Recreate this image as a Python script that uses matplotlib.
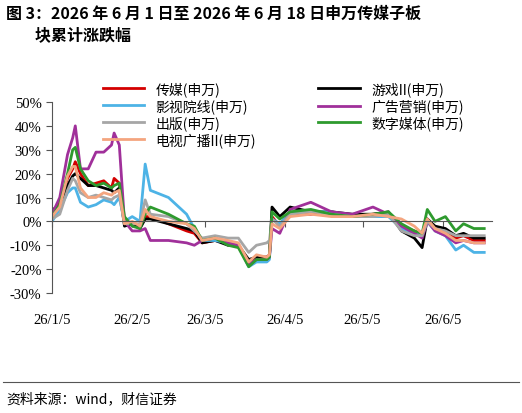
import matplotlib
matplotlib.use("Agg")
import matplotlib.pyplot as plt
import pandas as pd
from matplotlib.ticker import FuncFormatter

plt.rcParams['font.family'] = ['Liberation Serif', 'Noto Sans CJK SC']

start = pd.Timestamp('2026-01-05')
days = [0,3,6,8,9,11,14,17,20,23,24,26,28,31,34,36,38,45,52,55,58,63,68,72,76,79,83,84,85,88,92,100,108,116,124,130,135,140,143,145,148,152,156,159,163,167]
series = {
 '传媒(申万)': ([3,8,18,22,25,20,15,16,17,14,18,16,0,-1,-2,2,2,-1,-4,-5,-9,-8,-9,-10,-17,-15,-15,-14,2,-2,3,3,4,2,3,3,-2,-4,-6,1,-3,-5,-7,-6,-8,-8], '#d40000'),
 '游戏II(申万)': ([5,6,15,19,20,18,15,15,14,13,12,14,-2,-1,-3,1,1,-1,-3,-4,-9,-8,-10,-10,-16,-15,-15,-15,6,2,6,4,4,3,3,4,-4,-7,-11,1,-2,-3,-6,-5,-7,-7], '#000000'),
 '影视院线(申万)': ([0,5,12,14,14,8,6,7,9,8,7,10,0,2,0,24,13,10,3,-3,-8,-8,-9,-10,-19,-17,-17,-16,1,-1,4,4,4,2,2,2,-3,-5,-6,0,-4,-6,-12,-10,-13,-13], '#4db3e6'),
 '广告营销(申万)': ([3,10,28,35,40,22,22,29,29,32,37,32,0,-4,-4,-3,-8,-8,-9,-10,-8,-7,-9,-10,-18,-16,-16,-15,-3,-5,5,8,4,3,6,3,-2,-5,-7,0,-4,-6,-9,-8,-9,-9], '#a0309a'),
 '出版(申万)': ([1,3,13,18,17,12,10,11,10,9,10,11,-1,-1,-1,9,3,2,-1,-4,-7,-6,-7,-7,-13,-10,-9,-8,1,-2,3,4,3,2,2,3,-4,-6,-6,0,-3,-4,-6,-6,-6,-6], '#a6a6a6'),
 '数字媒体(申万)': ([2,7,20,30,31,22,17,15,16,14,15,16,2,-2,-3,3,6,3,-1,-2,-8,-7,-10,-11,-19,-16,-16,-15,4,1,4,5,3,2,3,4,-1,-4,-5,5,0,2,-4,-1,-3,-3], '#2e9a2e'),
 '电视广播II(申万)': ([2,6,19,23,23,14,10,10,12,11,12,13,-1,0,-2,5,2,0,-1,-3,-8,-7,-8,-9,-17,-14,-15,-14,-1,-3,2,3,2,2,3,2,1,-2,-5,1,-3,-5,-8,-8,-9,-9], '#f4a57f'),
}
legend_order = ['传媒(申万)', '影视院线(申万)', '出版(申万)', '电视广播II(申万)',
                '游戏II(申万)', '广告营销(申万)', '数字媒体(申万)']
tick_labels = ['26/1/5','26/2/5','26/3/5','26/4/5','26/5/5','26/6/5']
tick_dates = pd.to_datetime(['2026-01-05','2026-02-05','2026-03-05','2026-04-05','2026-05-05','2026-06-05'])

x = [start + pd.Timedelta(days=d) for d in days]
fig = plt.figure(figsize=(5.22, 4.14), dpi=100)
ax = fig.add_axes([52/522, 1-294/414, 440/522, 191/414])
handles = {}
for name, (vals, c) in series.items():
    h, = ax.plot(x, vals, color=c, lw=2, label=name)
    handles[name] = h
ax.set_ylim(-30, 50)
ax.set_xlim(start, start + pd.Timedelta(days=170))
ax.set_yticks(range(-30, 51, 10))
ax.yaxis.set_major_formatter(FuncFormatter(lambda v, p: f'{int(v)}%'))
ax.set_xticks(tick_dates)
ax.set_xticklabels(tick_labels)
for s in ['top', 'right']:
    ax.spines[s].set_visible(False)
ax.spines['bottom'].set_position(('data', 0))
ax.spines['bottom'].set_color('#555555')
ax.spines['left'].set_color('#555555')
ax.tick_params(axis='x', length=4, pad=62, labelsize=10.5, color='#555555')
ax.tick_params(axis='y', length=4, labelsize=10.5, color='#555555')
fig.legend(handles=[handles[n] for n in legend_order], ncol=2, loc='upper left',
           bbox_to_anchor=(90/522, 1-70/414), frameon=False, handlelength=3.0,
           columnspacing=4.5, labelspacing=0.15, prop={'family': ['Noto Sans CJK SC'], 'size': 10})
fig.text(0.012, 0.985, '图 3：2026 年 6 月 1 日至 2026 年 6 月 18 日申万传媒子板\n        块累计涨跌幅',
         va='top', ha='left', fontsize=11.5, fontweight='bold', family=['Noto Sans CJK SC'], linespacing=1.4)
fig.add_artist(plt.Line2D([0.005, 0.995], [1-383/414, 1-383/414], color='#555555', lw=0.8))
fig.text(0.012, 1-399/414, '资料来源：wind，财信证券', va='center', ha='left', fontsize=10,
         style='italic', family=['Noto Sans CJK SC'])
fig.savefig('out.png', dpi=100)
